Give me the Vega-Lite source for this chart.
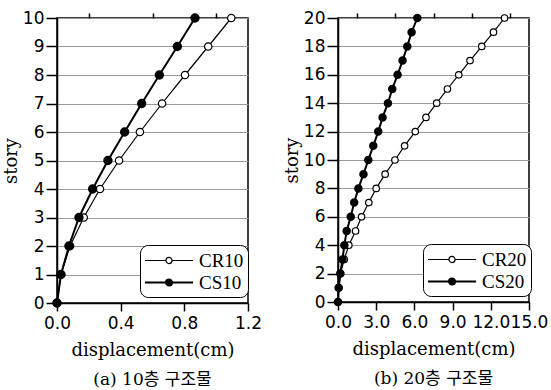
{
  "$schema": "https://vega.github.io/schema/vega-lite/v6.json",
  "background": "white",
  "padding": {"left": 1, "top": 8, "right": 3, "bottom": 2},
  "spacing": 19,
  "datasets": {
    "p10": [
      {"model": "CR10", "story": 0, "disp": 0},
      {"model": "CR10", "story": 1, "disp": 0.025},
      {"model": "CR10", "story": 2, "disp": 0.082},
      {"model": "CR10", "story": 3, "disp": 0.168},
      {"model": "CR10", "story": 4, "disp": 0.27},
      {"model": "CR10", "story": 5, "disp": 0.39},
      {"model": "CR10", "story": 6, "disp": 0.521},
      {"model": "CR10", "story": 7, "disp": 0.66},
      {"model": "CR10", "story": 8, "disp": 0.804},
      {"model": "CR10", "story": 9, "disp": 0.95},
      {"model": "CR10", "story": 10, "disp": 1.095},
      {"model": "CS10", "story": 0, "disp": 0},
      {"model": "CS10", "story": 1, "disp": 0.025},
      {"model": "CS10", "story": 2, "disp": 0.075},
      {"model": "CS10", "story": 3, "disp": 0.138},
      {"model": "CS10", "story": 4, "disp": 0.224},
      {"model": "CS10", "story": 5, "disp": 0.32},
      {"model": "CS10", "story": 6, "disp": 0.425},
      {"model": "CS10", "story": 7, "disp": 0.532},
      {"model": "CS10", "story": 8, "disp": 0.643},
      {"model": "CS10", "story": 9, "disp": 0.756},
      {"model": "CS10", "story": 10, "disp": 0.867}
    ],
    "p20": [
      {"model": "CR20", "story": 0, "disp": 0},
      {"model": "CR20", "story": 1, "disp": 0.06},
      {"model": "CR20", "story": 2, "disp": 0.2},
      {"model": "CR20", "story": 3, "disp": 0.49},
      {"model": "CR20", "story": 4, "disp": 0.85},
      {"model": "CR20", "story": 5, "disp": 1.38},
      {"model": "CR20", "story": 6, "disp": 1.85},
      {"model": "CR20", "story": 7, "disp": 2.42},
      {"model": "CR20", "story": 8, "disp": 3.0},
      {"model": "CR20", "story": 9, "disp": 3.7},
      {"model": "CR20", "story": 10, "disp": 4.47},
      {"model": "CR20", "story": 11, "disp": 5.23},
      {"model": "CR20", "story": 12, "disp": 6.07},
      {"model": "CR20", "story": 13, "disp": 6.91},
      {"model": "CR20", "story": 14, "disp": 7.75},
      {"model": "CR20", "story": 15, "disp": 8.59},
      {"model": "CR20", "story": 16, "disp": 9.48},
      {"model": "CR20", "story": 17, "disp": 10.37},
      {"model": "CR20", "story": 18, "disp": 11.29},
      {"model": "CR20", "story": 19, "disp": 12.21},
      {"model": "CR20", "story": 20, "disp": 13.08},
      {"model": "CS20", "story": 0, "disp": 0},
      {"model": "CS20", "story": 1, "disp": 0.05},
      {"model": "CS20", "story": 2, "disp": 0.18},
      {"model": "CS20", "story": 3, "disp": 0.35},
      {"model": "CS20", "story": 4, "disp": 0.5},
      {"model": "CS20", "story": 5, "disp": 0.68},
      {"model": "CS20", "story": 6, "disp": 1.0},
      {"model": "CS20", "story": 7, "disp": 1.27},
      {"model": "CS20", "story": 8, "disp": 1.6},
      {"model": "CS20", "story": 9, "disp": 2.0},
      {"model": "CS20", "story": 10, "disp": 2.38},
      {"model": "CS20", "story": 11, "disp": 2.77},
      {"model": "CS20", "story": 12, "disp": 3.16},
      {"model": "CS20", "story": 13, "disp": 3.5},
      {"model": "CS20", "story": 14, "disp": 3.92},
      {"model": "CS20", "story": 15, "disp": 4.26},
      {"model": "CS20", "story": 16, "disp": 4.68},
      {"model": "CS20", "story": 17, "disp": 5.07},
      {"model": "CS20", "story": 18, "disp": 5.44},
      {"model": "CS20", "story": 19, "disp": 5.78},
      {"model": "CS20", "story": 20, "disp": 6.23}
    ]
  },
  "config": {
    "view": {"stroke": "black", "strokeWidth": 1.5},
    "axis": {
      "labelFont": "DejaVu Sans",
      "labelFontSize": 17,
      "labelColor": "black",
      "labelOverlap": false,
      "labelBound": false,
      "labelFlush": false,
      "titleFont": "DejaVu Serif",
      "titleFontSize": 18,
      "titleFontWeight": "normal",
      "titleColor": "black",
      "domainColor": "black",
      "domainWidth": 1.5,
      "tickColor": "black",
      "tickWidth": 1.5,
      "gridColor": "#999999",
      "gridWidth": 1
    },
    "title": {"font": "DejaVu Serif, Noto Sans CJK KR", "fontSize": 17, "fontWeight": "normal", "color": "black", "orient": "bottom", "offset": 13},
    "legend": {
      "orient": "none",
      "title": null,
      "strokeColor": "black",
      "cornerRadius": 8,
      "padding": 4,
      "fillColor": "white",
      "labelFont": "Liberation Serif",
      "labelFontSize": 19,
      "labelColor": "black",
      "symbolType": "M-1,0L1,0M1.58,0L3.58,0M1,0A0.29,0.29 0 1,0 1.58,0A0.29,0.29 0 1,0 1,0Z",
      "symbolSize": 441,
      "symbolStrokeColor": "black",
      "labelOffset": 32,
      "rowPadding": 0
    }
  },
  "hconcat": [
    {
      "title": "(a) 10층 구조물",
      "width": 191,
      "height": 285,
      "data": {"name": "p10"},
      "layer": [
        {
          "mark": {"type": "line", "color": "black"},
          "encoding": {
            "x": {"field": "disp", "type": "quantitative", "scale": {"domain": [0, 1.2], "nice": false},
              "axis": {"title": "displacement(cm)", "grid": false, "values": [0, 0.4, 0.8, 1.2], "format": ".1f",
                "tickSize": 8, "labelPadding": 4, "titlePadding": 10}},
            "y": {"field": "story", "type": "quantitative", "scale": {"domain": [0, 10], "nice": false},
              "axis": {"title": "story", "values": [0, 1, 2, 3, 4, 5, 6, 7, 8, 9, 10], "grid": true,
                "tickSize": 11, "labelPadding": 2, "titlePadding": 2}},
            "detail": {"field": "model"},
            "order": {"field": "story"},
            "strokeWidth": {"condition": {"test": "datum.model === 'CS10'", "value": 2}, "value": 1.2}
          }
        },
        {
          "mark": {"type": "point", "filled": true, "stroke": "black", "opacity": 1, "size": 55},
          "encoding": {
            "x": {"field": "disp", "type": "quantitative", "scale": {"domain": [0, 1.2], "nice": false},
              "axis": {"title": null, "labels": false, "domain": false, "grid": false, "values": [0.2, 0.6, 1.0], "tickSize": 5}},
            "y": {"field": "story", "type": "quantitative", "scale": {"domain": [0, 10], "nice": false},
              "axis": {"title": "story", "values": [0, 1, 2, 3, 4, 5, 6, 7, 8, 9, 10], "grid": true,
                "tickSize": 11, "labelPadding": 2, "titlePadding": 2}},
            "fill": {"field": "model", "type": "nominal", "scale": {"domain": ["CR10", "CS10"], "range": ["white", "black"]},
              "legend": {"legendX": 83, "legendY": 227}},
            "strokeWidth": {"field": "model", "type": "nominal", "scale": {"domain": ["CR10", "CS10"], "range": [1.2, 2]},
              "legend": {"legendX": 83, "legendY": 227}}
          }
        }
      ],
      "resolve": {"scale": {"x": "independent"}, "axis": {"x": "independent"}}
    },
    {
      "title": "(b) 20층 구조물",
      "width": 191,
      "height": 284,
      "data": {"name": "p20"},
      "layer": [
        {
          "mark": {"type": "line", "color": "black"},
          "encoding": {
            "x": {"field": "disp", "type": "quantitative", "scale": {"domain": [0, 15], "nice": false},
              "axis": {"title": "displacement(cm)", "grid": false, "values": [0, 3, 6, 9, 12, 15], "format": ".1f",
                "tickSize": 8, "labelPadding": 4, "titlePadding": 10}},
            "y": {"field": "story", "type": "quantitative", "scale": {"domain": [0, 20], "nice": false},
              "axis": {"title": "story", "values": [0, 2, 4, 6, 8, 10, 12, 14, 16, 18, 20], "grid": true,
                "tickSize": 11, "labelPadding": 2, "titlePadding": 2}},
            "detail": {"field": "model"},
            "order": {"field": "story"},
            "strokeWidth": {"condition": {"test": "datum.model === 'CS20'", "value": 2}, "value": 1.2}
          }
        },
        {
          "mark": {"type": "point", "filled": true, "stroke": "black", "opacity": 1, "size": 42},
          "encoding": {
            "x": {"field": "disp", "type": "quantitative", "scale": {"domain": [0, 15], "nice": false},
              "axis": {"title": null, "labels": false, "domain": false, "grid": false, "values": [1.5, 4.5, 7.5, 10.5, 13.5], "tickSize": 5}},
            "y": {"field": "story", "type": "quantitative", "scale": {"domain": [0, 20], "nice": false},
              "axis": {"title": "story", "values": [0, 2, 4, 6, 8, 10, 12, 14, 16, 18, 20], "grid": true,
                "tickSize": 11, "labelPadding": 2, "titlePadding": 2}},
            "fill": {"field": "model", "type": "nominal", "scale": {"domain": ["CR20", "CS20"], "range": ["white", "black"]},
              "legend": {"legendX": 85, "legendY": 226}},
            "strokeWidth": {"field": "model", "type": "nominal", "scale": {"domain": ["CR20", "CS20"], "range": [1.2, 2]},
              "legend": {"legendX": 85, "legendY": 226}}
          }
        }
      ],
      "resolve": {"scale": {"x": "independent"}, "axis": {"x": "independent"}}
    }
  ],
  "resolve": {"scale": {"fill": "independent", "strokeWidth": "independent"}, "legend": {"fill": "independent", "strokeWidth": "independent"}}
}
